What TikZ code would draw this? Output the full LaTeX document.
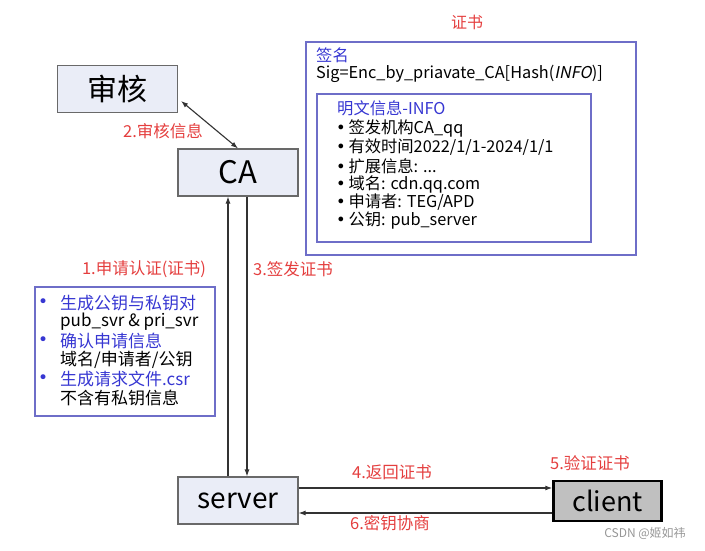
\documentclass[tikz,border=0pt]{standalone}
\usepackage{fontspec}
\setmainfont{Noto Sans CJK SC}
\newfontfamily\slfont[FakeSlant=0.2]{Noto Sans CJK SC}
\newfontfamily\dvfont{DejaVu Sans}
\usetikzlibrary{arrows.meta}
\definecolor{boxfill}{RGB}{234,237,247}
\definecolor{boxline}{RGB}{105,105,105}
\definecolor{certline}{RGB}{110,110,200}
\definecolor{bluetxt}{RGB}{55,55,210}
\definecolor{redtxt}{RGB}{228,62,62}
\definecolor{clientfill}{RGB}{192,192,192}
\definecolor{wmark}{RGB}{150,150,150}
\newcommand{\bul}{{\dvfont •}\,}
\tikzset{
  entity/.style={draw=boxline, fill=boxfill, line width=1.1pt, minimum width=120pt, minimum height=47pt, inner sep=0pt, font=\fontsize{28}{30}\selectfont},
  steplabel/.style={text=redtxt, font=\fontsize{16.5}{18}\selectfont, inner sep=0pt},
  certbox/.style={draw=certline, line width=1.1pt},
  line/.style={anchor=west, inner sep=0pt, font=\fontsize{16.3}{18}\selectfont},
  leftline/.style={anchor=west, inner sep=0pt, font=\fontsize{17}{19}\selectfont},
  conn/.style={draw=black!80, line width=1.1pt, -{Latex[length=7pt,width=5pt]}},
}
\begin{document}
\begin{tikzpicture}[x=1pt,y=-1pt]
\useasboundingbox (0,0) rectangle (705,551);
% boxes
\node[entity, font=\fontsize{30}{32}\selectfont] (sh) at (117.5,89) {审核};
\node[entity, font=\fontsize{31}{33}\selectfont] (ca) at (238,172.5) {CA};
\node[entity] (srv) at (238,500.5) {server};
\node[draw=black, line width=2.4pt, fill=clientfill, minimum width=108pt, minimum height=40pt, inner sep=0pt, font=\fontsize{27}{30}\selectfont] (cl) at (607.5,501) {client};
% certificate
\node[steplabel, font=\fontsize{16}{18}\selectfont] (certt) at (467,22) {证书};
\node[certbox, minimum width=330pt, minimum height=213pt, inner sep=0pt] (cert) at (471,148.5) {};
\node[certbox, minimum width=274pt, minimum height=148pt, inner sep=0pt] (info) at (454,168) {};
\node[line, text=bluetxt] (sig) at (316,55) {签名};
\node[line] (sigf) at (316,74) {Sig=Enc\_by\_priavate\_CA[Hash({\slfont INFO})]};
\node[line, text=bluetxt] (ih) at (337,108) {明文信息-INFO};
\node[line] (i1) at (336,128) {\bul 签发机构CA\_qq};
\node[line] (i2) at (336,147) {\bul 有效时间2022/1/1-2024/1/1};
\node[line] (i3) at (336,166) {\bul 扩展信息: ...};
\node[line] (i4) at (336,184) {\bul 域名: cdn.qq.com};
\node[line] (i5) at (336,202) {\bul 申请者: TEG/APD};
\node[line] (i6) at (336,221) {\bul 公钥: pub\_server};
% left box
\node[draw=certline, line width=1.1pt, minimum width=180pt, minimum height=129pt, inner sep=0pt] (lbox) at (125,351.5) {};
\node[leftline, text=bluetxt] (b1) at (38,303) {\dvfont •};
\node[leftline, text=bluetxt] (l1) at (60,303) {生成公钥与私钥对};
\node[leftline] (l2) at (60,322) {pub\_svr \& pri\_svr};
\node[leftline, text=bluetxt] (b2) at (38,341) {\dvfont •};
\node[leftline, text=bluetxt] (l3) at (60,341) {确认申请信息};
\node[leftline] (l4) at (60,360) {域名/申请者/公钥};
\node[leftline, text=bluetxt] (b3) at (38,379) {\dvfont •};
\node[leftline, text=bluetxt] (l5) at (60,379) {生成请求文件.csr};
\node[leftline] (l6) at (60,398) {不含有私钥信息};
% labels
\node[steplabel] (s2) at (163,131) {2.审核信息};
\node[steplabel] (s1) at (144,269) {1.申请认证(证书)};
\node[steplabel] (s3) at (293,269) {3.签发证书};
\node[steplabel] (s4) at (392,472) {4.返回证书};
\node[steplabel] (s5) at (590,463) {5.验证证书};
\node[steplabel] (s6) at (390,523) {6.密钥协商};
\node[text=wmark, inner sep=0pt, font=\fontsize{12}{14}\selectfont] (wm) at (645,533) {CSDN @姬如祎};
% connectors
\draw[conn, {Latex[length=7pt,width=5pt]}-{Latex[length=7pt,width=5pt]}] ([shift={(3,12)}]sh.east) -- (ca.north);
\draw[conn] ([xshift=-10pt]srv.north) -- ([xshift=-10pt]ca.south);
\draw[conn] ([xshift=9pt]ca.south) -- ([xshift=9pt]srv.north);
\draw[conn] ([yshift=12.5pt]srv.east) -- ([yshift=12.5pt]srv.east -| cl.west);
\draw[conn] ([yshift=-12pt]cl.west) -- ([yshift=-12pt]cl.west -| srv.east);
\end{tikzpicture}
\end{document}
